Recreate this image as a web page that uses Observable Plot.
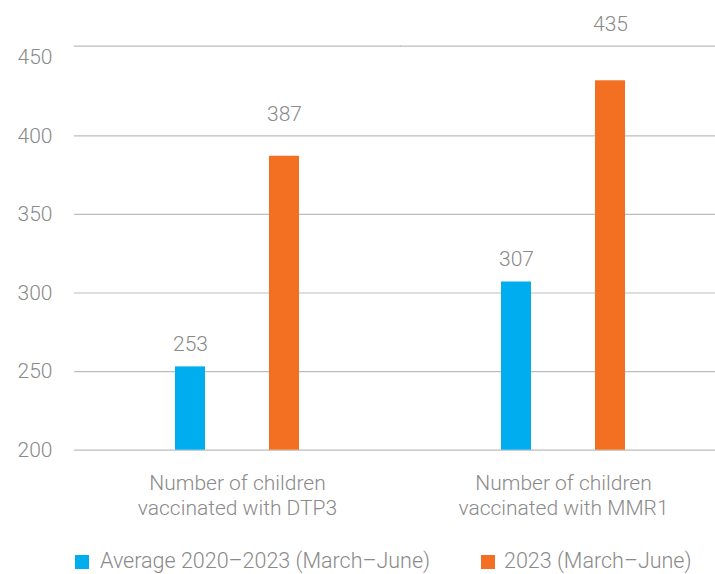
<!DOCTYPE html>
<html>
<head>
<meta charset="utf-8">
<script src="https://cdn.jsdelivr.net/npm/d3@7"></script>
<script src="https://cdn.jsdelivr.net/npm/@observablehq/plot@0.6"></script>
<style>
  html, body { margin: 0; padding: 0; background: #fff; }
  body { width: 715px; height: 574px; overflow: hidden; font-family: Roboto, "Liberation Sans", sans-serif; font-weight: 300; }
  svg { display: block; }
  .legend { position: relative; height: 31px; font-size: 21.5px; color: #8a8a8a; }
  .legend .sw { position: absolute; width: 14px; height: 14px; top: 14px; }
  .legend .lb { position: absolute; top: 9px; line-height: 22px; white-space: nowrap; }
</style>
</head>
<body>
<div id="chart"></div>
<script>
const categories = ["Number of children\nvaccinated with DTP3", "Number of children\nvaccinated with MMR1"];
const seriesNames = ["Average 2020–2023 (March–June)", "2023 (March–June)"];
const seriesColors = ["#00aeef", "#f36f21"];
const avgValues = [253, 307];
const values2023 = [387, 435];
const yTicks = [200, 250, 300, 350, 400, 450];
const gridTicks = [200, 250, 300, 350, 400];

const rows = [];
categories.forEach((c, i) => {
  rows.push({cat: c, series: seriesNames[0], value: avgValues[i], idx: i});
  rows.push({cat: c, series: seriesNames[1], value: values2023[i], idx: i});
});

const textColor = "#8a8a8a";
const font = "Roboto, 'Liberation Sans', sans-serif";
const fs = 21;

const svg = Plot.plot({
  width: 715,
  height: 541,
  marginTop: 45.7,
  marginBottom: 91.3,
  marginLeft: 73,
  marginRight: 0,
  style: {fontFamily: font, fontSize: fs + "px", fontWeight: 300, color: textColor, background: "#fff"},
  fx: {domain: categories, range: [73, 726], padding: 0, label: null},
  x: {domain: seriesNames, paddingInner: 0.677, paddingOuter: 1.066, axis: null},
  y: {domain: [200, 457], label: null},
  color: {domain: seriesNames, range: seriesColors},
  marks: [
    Plot.ruleY(gridTicks, {stroke: "#bdbdbd", strokeWidth: 1.2}),
    Plot.frame({anchor: "top", stroke: "#bdbdbd", strokeWidth: 1.2}),
    Plot.axisY(yTicks, {tickSize: 0, tickPadding: 22, label: null, fill: textColor, fontSize: fs, fontWeight: 300}),
    Plot.axisFx({anchor: "bottom", tickSize: 0, tickPadding: 22, label: null, fill: textColor, fontSize: fs, lineHeight: 1.2}),
    Plot.barY(rows, {fx: "cat", x: "series", y1: 200, y2: "value", fill: "series"}),
    Plot.text(rows.filter(d => d.series === seriesNames[0]), {fx: "cat", x: "series", y: "value", text: d => String(d.value), dy: -23, fill: textColor, fontSize: fs, fontWeight: 300}),
    Plot.text(rows.filter(d => d.series === seriesNames[1] && d.idx === 0), {fx: "cat", x: "series", y: "value", text: d => String(d.value), dy: -42, fill: textColor, fontSize: fs, fontWeight: 300}),
    Plot.text(rows.filter(d => d.series === seriesNames[1] && d.idx === 1), {fx: "cat", x: "series", y: "value", text: d => String(d.value), dy: -57, fill: textColor, fontSize: fs, fontWeight: 300})
  ]
});

const chart = document.getElementById("chart");
chart.appendChild(svg);

const legend = document.createElement("div");
legend.className = "legend";
const legendX = [[75, 100], [481, 504]];
seriesNames.forEach((name, i) => {
  const sw = document.createElement("div");
  sw.className = "sw";
  sw.style.left = legendX[i][0] + "px";
  sw.style.background = seriesColors[i];
  const lb = document.createElement("div");
  lb.className = "lb";
  lb.style.left = legendX[i][1] + "px";
  lb.textContent = name;
  legend.appendChild(sw);
  legend.appendChild(lb);
});
chart.appendChild(legend);
</script>
</body>
</html>
